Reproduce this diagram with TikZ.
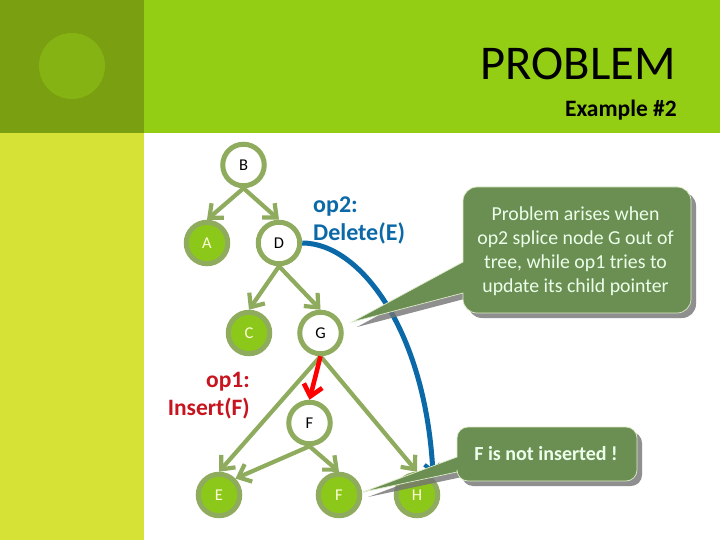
\documentclass[tikz,border=0pt]{standalone}
\usepackage{fontspec}
\setmainfont{Carlito}
\usetikzlibrary{arrows.meta}
\definecolor{bandtop}{HTML}{93CE15}
\definecolor{banddark}{HTML}{7A9F10}
\definecolor{bandspot}{HTML}{86B314}
\definecolor{bandside}{HTML}{D6E336}
\definecolor{treeline}{HTML}{8FAB5E}
\definecolor{leaffill}{HTML}{8CC81A}
\definecolor{bubble}{HTML}{6B8F52}
\definecolor{bubbleedge}{HTML}{DDEBC8}
\definecolor{bluetxt}{HTML}{0B69A8}
\definecolor{redtxt}{HTML}{C8141E}
\tikzset{
  inner/.style={circle, draw=treeline, line width=5pt, fill=white, minimum size=41.5pt, inner sep=0pt, text=black, font=\fontsize{16.5}{18}\selectfont},
  leaf/.style={inner, fill=leaffill, text=white!85!yellow},
  edge/.style={draw=treeline, line width=4.2pt, -{Straight Barb[length=11pt,width=19pt,line width=4.2pt]}},
  opedge/.style={draw=red, line width=4.6pt, -{Straight Barb[length=11pt,width=19pt,line width=4.6pt]}},
  bubblefill/.style={fill=bubble, draw=bubbleedge, line width=.7pt},
  bubbleshade/.style={fill=black!55, fill opacity=.8, draw=none},
  bubbletxt/.style={text=white!92!green, align=center},
}
\newcommand{\bubbleone}{(463,262) [rounded corners=14pt] -- (463,187) -- (691,187) -- (691,313) -- (463,313) [sharp corners] -- (463,293) -- (352,322) -- cycle}
\newcommand{\bubbletwo}{(457,457) [rounded corners=11pt] -- (457,427) -- (637,427) -- (637,481) -- (457,481) [sharp corners] -- (457,472) -- (363,492) -- cycle}
\begin{document}
\begin{tikzpicture}[x=1pt, y=-1pt]
\useasboundingbox (0,0) rectangle (720,540);
% slide background
\fill[white] (0,0) rectangle (720,540);
\fill[bandside] (0,133) rectangle (144,540);
\fill[bandtop] (144,0) rectangle (720,133);
\fill[banddark] (0,0) rectangle (144,133);
\fill[bandspot] (72,66) circle (33);
\node[anchor=east, inner sep=0pt, font=\fontsize{48.5}{52}\selectfont] (title) at (676,64){PROBLEM};
\node[anchor=east, inner sep=0pt, font=\bfseries\fontsize{23.5}{26}\selectfont] (subtitle) at (677,110){Example \#2};
% tree
\node[inner] (nB) at (243.5,165){B};
\node[leaf] (nA) at (207,243){A};
\node[inner] (nD) at (279,243){D};
\node[leaf] (nC) at (249,333){C};
\node[inner] (nG) at (320.5,333){G};
\node[inner] (nN) at (309.5,423){F};
\node[leaf] (nE) at (219,495){E};
\node[leaf] (nF) at (339,495){F};
\node[leaf] (nH) at (417,495){H};
\draw[edge](nB.south) -- (nA.north);
\draw[edge](nB.south) -- (nD.north);
\draw[edge](nD.south) -- (nC.north);
\draw[edge](nD.south) -- (nG.north);
\draw[edge](nG.south) -- (nE.north);
\draw[edge](nG.south) -- (nH.north);
\draw[edge](nN.south) -- (nE.45);
\draw[edge](nN.south) -- (nF.north);
\draw[opedge](nG.south) -- (nN.north);
% operations
\coordinate (blueend) at (433,474);
\draw[draw=bluetxt, line width=5pt, -{Straight Barb[length=7pt,width=16pt,line width=4pt]}] (nD.east) .. controls (360,243) and (425,330) .. (blueend);
\node[anchor=north west, inner sep=0pt, align=left, text=bluetxt, font=\bfseries\fontsize{24}{28}\selectfont] (optwo) at (313,197){op2:\\Delete(E)};
\node[anchor=north east, inner sep=0pt, align=right, text=redtxt, font=\bfseries\fontsize{23.5}{28}\selectfont] (opone) at (250,372){op1:\\Insert(F)};
% callouts
\begin{scope}[shift={(5,5)}]
\fill[bubbleshade] \bubbleone;
\fill[bubbleshade] \bubbletwo;
\end{scope}
\draw[bubblefill] \bubbleone;
\draw[bubblefill] \bubbletwo;
\node[bubbletxt, inner sep=0pt, font=\fontsize{19.8}{24}\selectfont] (problemtxt) at (575.5,251){Problem arises when\\op2 splice node G out of\\tree, while op1 tries to\\update its child pointer};
\node[bubbletxt, inner sep=0pt, font=\bfseries\fontsize{20}{22}\selectfont] (notinserted) at (546,454){F is not inserted !};
\end{tikzpicture}
\end{document}
